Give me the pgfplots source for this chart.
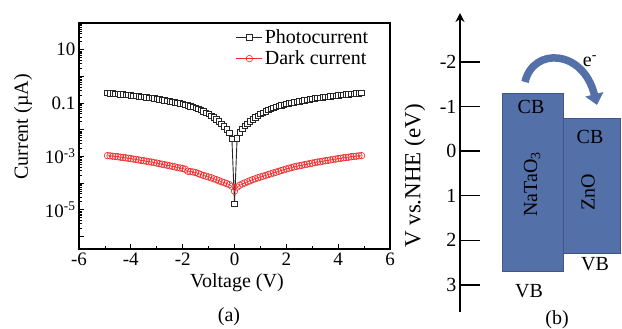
\documentclass[border=0pt]{standalone}
\usepackage{fontspec}
\setmainfont{Liberation Serif}
\usepackage{pgfplots}
\pgfplotsset{compat=1.18}
\usetikzlibrary{arrows.meta}
\definecolor{bandblue}{RGB}{84,112,168}
\definecolor{bandedge}{RGB}{62,86,140}
\definecolor{redc}{RGB}{240,40,40}
\begin{document}
\rmfamily
\begin{tikzpicture}[x=1pt,y=1pt,font=\rmfamily\fontsize{20}{24}\selectfont]
\path[use as bounding box] (0,0) rectangle (622,329);
\begin{axis}[
  at={(79pt,80pt)}, anchor=south west, scale only axis,
  width=311pt, height=226pt,
  xmin=-6, xmax=6, ymode=log, ymin=3.4e-7, ymax=100,
  xtick={-6,-4,-2,0,2,4,6}, xticklabels={-6,-4,-2,0,2,4,6},
  minor x tick num=1,
  ytick={1e-6,1e-5,1e-4,1e-3,1e-2,0.1,1,10,100},
  yticklabels={,10\textsuperscript{-5},,10\textsuperscript{-3},,0.1,,10,},
  tick align=inside, xtick pos=left, ytick pos=left,
  major tick length=5pt, minor tick length=3pt,
  axis line style={line width=1.3pt},
  every tick/.style={black, line width=0.8pt},
  tick label style={font=\rmfamily\fontsize{19}{22}\selectfont},
  label style={font=\rmfamily\fontsize{20}{24}\selectfont},
  xlabel={Voltage (V)}, ylabel={Current (\textmu A)},
  xlabel style={at={(axis description cs:0.508,-0.15)}, anchor=center},
  ylabel style={at={(axis description cs:-0.18,0.54)}, anchor=center},
  legend style={at={(axis description cs:0.94,0.985)}, anchor=north east,
    draw=none, fill=none, font=\rmfamily\fontsize{20}{22}\selectfont,
    row sep=2pt, inner sep=1pt},
  legend cell align=left,
  legend image code/.code={\draw[mark repeat=2,mark phase=2] plot coordinates {(0pt,0pt)(13pt,0pt)(26pt,0pt)};},
]
\addplot[black!85, line width=0.9pt, mark=square*, mark size=2.7pt,
  mark options={fill=white, line width=0.7pt}] coordinates {
(-4.9,0.240)(-4.8,0.234)(-4.7,0.229)(-4.6,0.224)(-4.5,0.219)(-4.4,0.214)(-4.3,0.209)(-4.2,0.204)(-4.1,0.200)(-4.0,0.195)
(-3.9,0.190)(-3.8,0.185)(-3.7,0.179)(-3.6,0.175)(-3.5,0.170)(-3.4,0.164)(-3.3,0.159)(-3.2,0.154)(-3.1,0.149)(-3.0,0.145)
(-2.9,0.139)(-2.8,0.133)(-2.7,0.128)(-2.6,0.122)(-2.5,0.117)(-2.4,0.112)(-2.3,0.107)(-2.2,0.102)(-2.1,0.0977)(-2.0,0.0925)
(-1.9,0.0873)(-1.8,0.0820)(-1.7,0.0765)(-1.6,0.0710)(-1.5,0.0655)(-1.4,0.0600)(-1.3,0.0545)(-1.2,0.0490)(-1.1,0.0435)(-1.0,0.0385)
(-0.9,0.0335)(-0.8,0.0290)(-0.7,0.0245)(-0.6,0.0205)(-0.5,0.0168)(-0.4,0.0135)(-0.3,0.0105)(-0.2,0.0078)(-0.1,0.0045)
(0,1.7e-5)
(0.1,0.0048)(0.2,0.0080)(0.3,0.0107)(0.4,0.0137)(0.5,0.0170)(0.6,0.0207)(0.7,0.0247)(0.8,0.0292)(0.9,0.0337)(1.0,0.0387)
(1.1,0.0437)(1.2,0.0492)(1.3,0.0547)(1.4,0.0602)(1.5,0.0657)(1.6,0.0712)(1.7,0.0767)(1.8,0.0822)(1.9,0.0875)(2.0,0.0927)
(2.1,0.0977)(2.2,0.102)(2.3,0.107)(2.4,0.112)(2.5,0.117)(2.6,0.122)(2.7,0.128)(2.8,0.133)(2.9,0.139)(3.0,0.145)
(3.1,0.149)(3.2,0.154)(3.3,0.159)(3.4,0.164)(3.5,0.170)(3.6,0.175)(3.7,0.179)(3.8,0.185)(3.9,0.190)(4.0,0.195)
(4.1,0.200)(4.2,0.204)(4.3,0.209)(4.4,0.214)(4.5,0.219)(4.6,0.224)(4.7,0.229)(4.8,0.234)(4.9,0.240)
};
\addplot[redc, line width=0.6pt, mark=o, mark size=3.3pt,
  mark options={fill=white, line width=0.6pt}] coordinates {
(-4.9,1.07e-3)(-4.8,1.05e-3)(-4.7,1.02e-3)(-4.6,1.00e-3)(-4.5,9.77e-4)(-4.4,9.33e-4)(-4.3,9.12e-4)(-4.2,8.91e-4)(-4.1,8.51e-4)(-4.0,8.32e-4)
(-3.9,7.94e-4)(-3.8,7.76e-4)(-3.7,7.41e-4)(-3.6,7.08e-4)(-3.5,6.92e-4)(-3.4,6.61e-4)(-3.3,6.31e-4)(-3.2,6.17e-4)(-3.1,5.89e-4)(-3.0,5.62e-4)
(-2.9,5.37e-4)(-2.8,5.13e-4)(-2.7,4.90e-4)(-2.6,4.68e-4)(-2.5,4.47e-4)(-2.4,4.27e-4)(-2.3,4.07e-4)(-2.2,3.80e-4)(-2.1,3.70e-4)(-2.0,3.55e-4)
(-1.9,3.30e-4)(-1.8,2.80e-4)(-1.7,2.70e-4)(-1.6,2.62e-4)(-1.5,2.50e-4)(-1.4,2.30e-4)(-1.3,2.09e-4)(-1.2,1.95e-4)(-1.1,1.82e-4)(-1.0,1.70e-4)
(-0.9,1.58e-4)(-0.8,1.45e-4)(-0.7,1.35e-4)(-0.6,1.23e-4)(-0.5,1.12e-4)(-0.4,1.05e-4)(-0.3,9.6e-5)(-0.2,8.8e-5)(-0.1,7.6e-5)
(0,5.0e-5)
(0.1,7.1e-5)(0.2,8.3e-5)(0.3,9.3e-5)(0.4,1.02e-4)(0.5,1.12e-4)(0.6,1.23e-4)(0.7,1.35e-4)(0.8,1.45e-4)(0.9,1.58e-4)(1.0,1.70e-4)
(1.1,1.82e-4)(1.2,1.95e-4)(1.3,2.09e-4)(1.4,2.24e-4)(1.5,2.40e-4)(1.6,2.57e-4)(1.7,2.75e-4)(1.8,2.95e-4)(1.9,3.16e-4)(2.0,3.39e-4)
(2.1,3.63e-4)(2.2,3.80e-4)(2.3,4.07e-4)(2.4,4.27e-4)(2.5,4.47e-4)(2.6,4.68e-4)(2.7,4.90e-4)(2.8,5.13e-4)(2.9,5.37e-4)(3.0,5.62e-4)
(3.1,5.89e-4)(3.2,6.17e-4)(3.3,6.31e-4)(3.4,6.61e-4)(3.5,6.92e-4)(3.6,7.08e-4)(3.7,7.41e-4)(3.8,7.76e-4)(3.9,7.94e-4)(4.0,8.32e-4)
(4.1,8.51e-4)(4.2,8.91e-4)(4.3,9.12e-4)(4.4,9.33e-4)(4.5,9.77e-4)(4.6,1.00e-3)(4.7,1.02e-3)(4.8,1.05e-3)(4.9,1.07e-3)
};
\legend{Photocurrent, Dark current}
\end{axis}
\begin{axis}[
  at={(460pt,17pt)}, anchor=south west, scale only axis,
  width=162pt, height=299pt,
  xmin=0, xmax=162, ymin=-3.10, ymax=3.61, y dir=reverse,
  axis x line=none, axis y line=left,
  y axis line style={draw=none},
  ytick={-2,-1,0,1,2,3}, yticklabels={-2,-1,0,1,2,3},
  ytick align=inside, major tick length=20pt,
  every tick/.style={black, line width=1.4pt},
  tick label style={font=\rmfamily\fontsize{20}{24}\selectfont},
  label style={font=\rmfamily\fontsize{23}{26}\selectfont},
  ylabel={V vs.NHE (eV)},
  ylabel style={at={(axis description cs:-0.278,0.455)}, anchor=center},
  clip=false,
]
\addplot[fill=bandblue, draw=bandedge, line width=0.8pt] coordinates {(42,-1.30) (103,-1.30) (103,2.71) (42,2.71)} -- cycle;
\addplot[fill=bandblue, draw=bandedge, line width=0.8pt] coordinates {(103,-0.73) (160,-0.73) (160,2.30) (103,2.30)} -- cycle;
\draw[line width=2.2pt, -{Stealth[length=9pt,width=9pt]}] (axis cs:0,3.61) -- (axis cs:0,-3.10);
\end{axis}
\draw[bandblue, line width=7.5pt, -{Triangle[length=11pt,width=18pt]}] (525,247) .. controls (533,282) and (583,280) .. (597,224);
\node at (531,222) {CB};
\node at (590,192) {CB};
\node[rotate=90] at (532,145) {NaTaO\textsubscript{3}};
\node[rotate=90] at (588,137) {ZnO};
\node at (529,38) {VB};
\node at (595,65) {VB};
\node at (590,268) {e\textsuperscript{-}};
\node at (557,9) {(b)};
\node at (229,12) {(a)};
\end{tikzpicture}
\end{document}
